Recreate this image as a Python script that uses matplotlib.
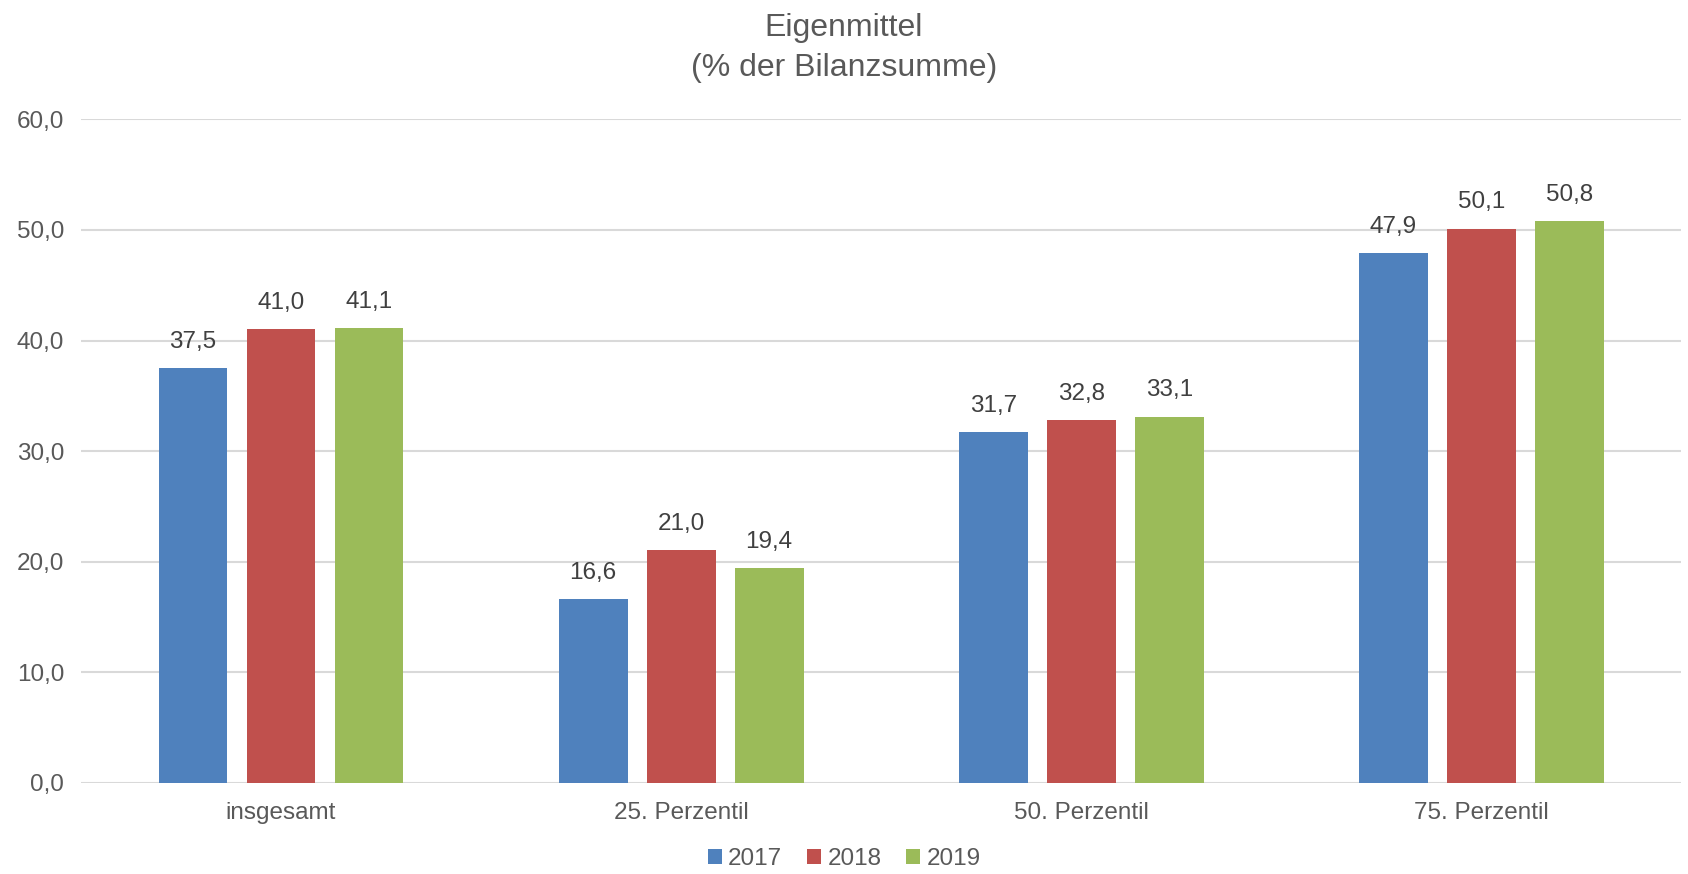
import numpy as np
import matplotlib.pyplot as plt

# Werte aus dem Diagramm
categories = ['insgesamt', '25. Perzentil', '50. Perzentil', '75. Perzentil']
years = ['2017', '2018', '2019']
values_2017 = [37.5, 16.6, 31.7, 47.9]
values_2018 = [41.0, 21.0, 32.8, 50.1]
values_2019 = [41.1, 19.4, 33.1, 50.8]

colors = ['#4F81BD', '#C0504D', '#9BBB59']
text_color = '#595959'

plt.rcParams['font.family'] = ['Liberation Sans', 'DejaVu Sans']

fig = plt.figure(figsize=(16.88, 8.74), dpi=100)
ax = fig.add_axes([0.048, 0.1046, 0.948, 0.7587])

x = np.arange(len(categories))
width = 0.172
offset = 0.22
series = [values_2017, values_2018, values_2019]

for i, (vals, col, yr) in enumerate(zip(series, colors, years)):
    pos = x + (i - 1) * offset
    bars = ax.bar(pos, vals, width, color=col, label=yr, zorder=3)
    for b, v in zip(bars, vals):
        ax.text(b.get_x() + b.get_width() / 2, v + 1.4, f'{v:.1f}'.replace('.', ','),
                ha='center', va='bottom', fontsize=17.5, color='#404040')

ax.set_xlim(-0.5, 3.5)
ax.set_ylim(0, 60)
ax.set_yticks(np.arange(0, 61, 10))
ax.set_yticklabels([f'{t:.1f}'.replace('.', ',') for t in np.arange(0, 61, 10)])
ax.set_xticks(x)
ax.set_xticklabels(categories)
ax.tick_params(axis='both', length=0, labelsize=17.5, labelcolor=text_color)
ax.tick_params(axis='x', pad=14)
ax.tick_params(axis='y', pad=12)
ax.grid(axis='y', color='#D9D9D9', linewidth=1.5, zorder=0)
for s in ax.spines.values():
    s.set_visible(False)

fig.text(0.5, 0.985, 'Eigenmittel\n(% der Bilanzsumme)', ha='center', va='top',
         fontsize=23, color=text_color, linespacing=1.45)

fig.legend(*ax.get_legend_handles_labels(), loc='center', bbox_to_anchor=(0.5, 0.017),
           ncol=3, frameon=False, fontsize=17.5, labelcolor=text_color,
           handlelength=0.6, handleheight=0.6, handletextpad=0.25,
           columnspacing=1.0, borderaxespad=0, borderpad=0)

fig.savefig('out.png', dpi=100)
